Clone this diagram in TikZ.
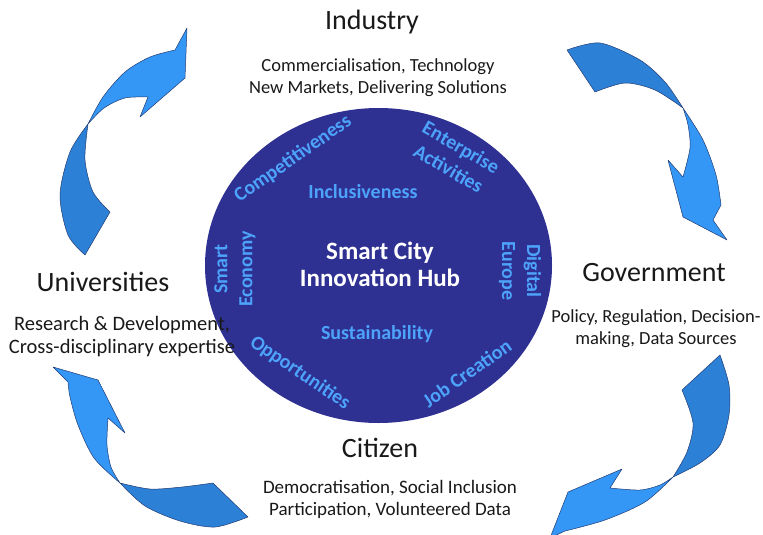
\documentclass[tikz,border=0pt]{standalone}
\usepackage{fontspec}
\setmainfont{Carlito}
\definecolor{hubblue}{RGB}{46,48,146}
\definecolor{hubtext}{RGB}{77,163,250}
\definecolor{twistlight}{RGB}{52,150,245}
\definecolor{twistdark}{RGB}{44,128,214}
\definecolor{twistline}{RGB}{35,60,115}
\definecolor{ink}{RGB}{25,25,25}
\tikzset{
	partner/.style={font=\fontsize{28}{32}\selectfont, text=ink},
	role/.style={font=\fontsize{18.5}{22}\selectfont, text=ink, align=center},
	value/.style={font=\fontsize{20}{25}\selectfont\bfseries, text=hubtext, align=center},
	bandlight/.style={fill=twistlight, draw=twistline, line width=.5pt},
	banddark/.style={fill=twistdark, draw=twistline, line width=.5pt}
}
\begin{document}
\begin{tikzpicture}[x=1pt, y=-1pt, line join=round, line cap=round]
		\useasboundingbox (0,0) rectangle (763,535);
		\coordinate (C) at (378.5,265.5);
		\fill[hubblue] (C) ellipse [x radius=173.5pt, y radius=157.5pt];
		\node[font=\fontsize{25}{27}\selectfont\bfseries, text=white, align=center] (hub) at (380,264) {Smart City\\Innovation Hub};
		\node[value] (incl) at (363,192) {Inclusiveness};
		\node[value] (sust) at (377,334) {Sustainability};
		\node[value, rotate=35] (comp) at (293,159) {Competitiveness};
		\node[value, rotate=-30] (ent) at (455,158) {Enterprise\\Activities};
		\node[value, rotate=90] (econ) at (235,269) {Smart\\Economy};
		\node[value, rotate=-90] (dig) at (520,271) {Digital\\Europe};
		\node[value, rotate=-34] (opp) at (300,373) {Opportunities};
		\node[value, rotate=35] (job) at (467,373) {Job Creation};
		\node[partner] (ind) at (372,22) {Industry};
		\node[role] (indr) at (378,78) {Commercialisation, Technology\\New Markets, Delivering Solutions};
		\node[partner] (uni) at (103,282) {Universities};
		\node[role, font=\fontsize{20.5}{23}\selectfont] (unir) at (122,337) {Research \& Development,\\Cross-disciplinary expertise};
		\node[partner] (gov) at (654,273) {Government};
		\node[role] (govr) at (656,329) {Policy, Regulation, Decision-\\making, Data Sources};
		\node[partner] (cit) at (380,448) {Citizen};
		\node[role, font=\fontsize{19}{22}\selectfont] (citr) at (390,499) {Democratisation, Social Inclusion\\Participation, Volunteered Data};
		% universities to industry
		\filldraw[banddark] plot[smooth] coordinates {(88,124) (70,152) (60,195) (68,235) (85,255)} -- plot[smooth] coordinates {(110,212) (93,192) (85,160) (88,124)} -- cycle;
		\filldraw[bandlight] plot[smooth] coordinates {(88,124) (103,97) (125,72) (150,57) (175,50)} -- (187,28) -- (185,78) -- (140,117) -- plot[smooth] coordinates {(148,97) (125,98) (104,108) (88,124)} -- cycle;
		% industry to government
		\filldraw[banddark] plot[smooth] coordinates {(567,50) (600,43) (640,60) (665,82) (683,108)} -- plot[smooth] coordinates {(683,108) (655,90) (625,83) (595,92)} -- cycle;
		\filldraw[bandlight] plot[smooth] coordinates {(683,108) (703,140) (716,175) (721,205)} -- (713,220) -- (727,240) -- (683,217) -- (668,160) -- plot[smooth] coordinates {(683,177) (690,148) (688,125) (683,108)} -- cycle;
		% government to citizen
		\filldraw[banddark] plot[smooth] coordinates {(720,355) (729,385) (729,415) (720,445) (700,463) (673,477)} -- plot[smooth] coordinates {(673,477) (687,452) (693,423) (682,390)} -- cycle;
		\filldraw[bandlight] plot[smooth] coordinates {(673,477) (645,502) (605,520) (565,531)} -- (550,538) -- (568,492) -- (622,469) -- plot[smooth] coordinates {(610,488) (640,490) (660,485) (673,477)} -- cycle;
		% citizen to universities
		\filldraw[banddark] plot[smooth] coordinates {(248,517) (215,527) (180,521) (145,506) (120,483)} -- plot[smooth] coordinates {(120,483) (150,489) (182,487) (213,483)} -- cycle;
		\filldraw[bandlight] plot[smooth] coordinates {(120,483) (94,458) (78,425) (70,397) (68,382)} -- (53,367) -- (98,380) -- (125,433) -- plot[smooth] coordinates {(108,418) (107,445) (111,467) (120,483)} -- cycle;
	\end{tikzpicture}
\end{document}
